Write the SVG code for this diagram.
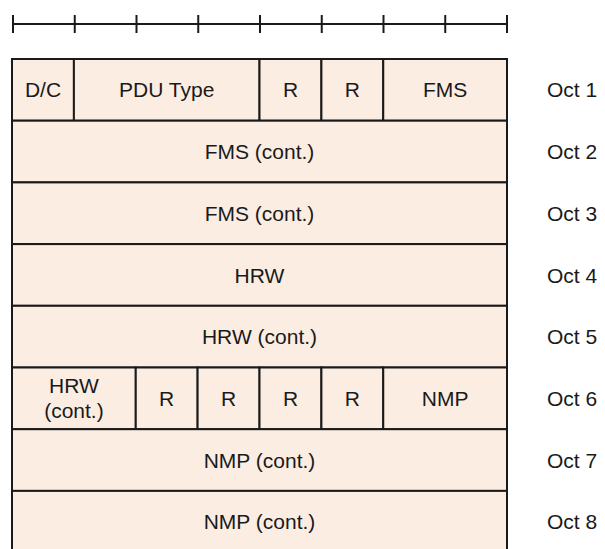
<svg xmlns="http://www.w3.org/2000/svg" width="605" height="549" viewBox="0 0 605 549">
<style>
.cell{fill:#fcede2;stroke:#1a1a1a;stroke-width:2}
.t{font-family:"Liberation Sans",Arial,sans-serif;font-size:21px;fill:#1a1a1a;text-anchor:middle}
.o{font-family:"Liberation Sans",Arial,sans-serif;font-size:21px;fill:#1a1a1a}
.r{stroke:#1a1a1a;stroke-width:2;fill:none}
</style>
<rect width="605" height="549" fill="#ffffff"/>
<g id="ruler" class="r">
<line x1="13" y1="24" x2="507" y2="24"/>
<line x1="13" y1="15" x2="13" y2="33"/>
<line x1="74.75" y1="15" x2="74.75" y2="33"/>
<line x1="136.5" y1="15" x2="136.5" y2="33"/>
<line x1="198.25" y1="15" x2="198.25" y2="33"/>
<line x1="260" y1="15" x2="260" y2="33"/>
<line x1="321.75" y1="15" x2="321.75" y2="33"/>
<line x1="383.5" y1="15" x2="383.5" y2="33"/>
<line x1="445.25" y1="15" x2="445.25" y2="33"/>
<line x1="507" y1="15" x2="507" y2="33"/>
</g>
<g id="oct1">
<g id="dc"><rect class="cell" x="12" y="59" width="61.9" height="61.7"/><text class="t" x="43" y="97.4">D/C</text></g>
<g id="pdutype"><rect class="cell" x="73.9" y="59" width="185.6" height="61.7"/><text class="t" x="166.7" y="97.4">PDU Type</text></g>
<g id="r1a"><rect class="cell" x="259.5" y="59" width="61.9" height="61.7"/><text class="t" x="290.5" y="97.4">R</text></g>
<g id="r1b"><rect class="cell" x="321.4" y="59" width="61.85" height="61.7"/><text class="t" x="352.3" y="97.4">R</text></g>
<g id="fms"><rect class="cell" x="383.25" y="59" width="123.75" height="61.7"/><text class="t" x="445.1" y="97.4">FMS</text></g>
</g>
<g id="oct2"><rect class="cell" x="12" y="120.7" width="495" height="61.7"/><text class="t" x="259.5" y="159.1">FMS (cont.)</text></g>
<g id="oct3"><rect class="cell" x="12" y="182.4" width="495" height="61.7"/><text class="t" x="259.5" y="220.8">FMS (cont.)</text></g>
<g id="oct4"><rect class="cell" x="12" y="244.1" width="495" height="61.7"/><text class="t" x="259.5" y="282.5">HRW</text></g>
<g id="oct5"><rect class="cell" x="12" y="305.8" width="495" height="61.7"/><text class="t" x="259.5" y="344.2">HRW (cont.)</text></g>
<g id="oct6">
<g id="hrwcont"><rect class="cell" x="12" y="367.5" width="123.75" height="61.7"/><text class="t" x="73.9" y="393">HRW</text><text class="t" x="73.9" y="418">(cont.)</text></g>
<g id="r6a"><rect class="cell" x="135.75" y="367.5" width="61.85" height="61.7"/><text class="t" x="166.7" y="405.9">R</text></g>
<g id="r6b"><rect class="cell" x="197.6" y="367.5" width="61.9" height="61.7"/><text class="t" x="228.5" y="405.9">R</text></g>
<g id="r6c"><rect class="cell" x="259.5" y="367.5" width="61.9" height="61.7"/><text class="t" x="290.5" y="405.9">R</text></g>
<g id="r6d"><rect class="cell" x="321.4" y="367.5" width="61.85" height="61.7"/><text class="t" x="352.3" y="405.9">R</text></g>
<g id="nmp"><rect class="cell" x="383.25" y="367.5" width="123.75" height="61.7"/><text class="t" x="445.1" y="405.9">NMP</text></g>
</g>
<g id="oct7"><rect class="cell" x="12" y="429.2" width="495" height="61.7"/><text class="t" x="259.5" y="467.6">NMP (cont.)</text></g>
<g id="oct8"><rect class="cell" x="12" y="490.9" width="495" height="61.7"/><text class="t" x="259.5" y="529.3">NMP (cont.)</text></g>
<g id="labels">
<text class="o" x="547" y="97.4">Oct 1</text>
<text class="o" x="547" y="159.1">Oct 2</text>
<text class="o" x="547" y="220.8">Oct 3</text>
<text class="o" x="547" y="282.5">Oct 4</text>
<text class="o" x="547" y="344.2">Oct 5</text>
<text class="o" x="547" y="405.9">Oct 6</text>
<text class="o" x="547" y="467.6">Oct 7</text>
<text class="o" x="547" y="529.3">Oct 8</text>
</g>
</svg>
